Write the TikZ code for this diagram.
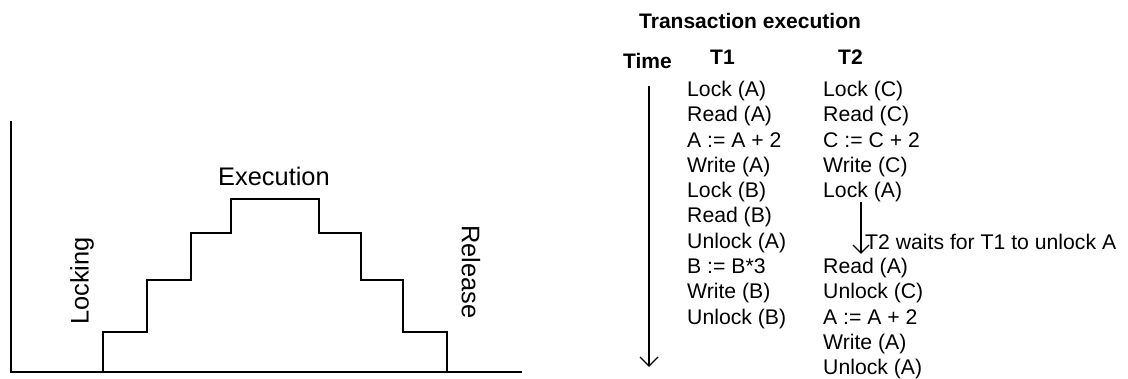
\documentclass[tikz,border=0pt]{standalone}
\usepackage{fontspec}
\setmainfont{Liberation Sans}
\usetikzlibrary{arrows.meta}
\begin{document}
\begin{tikzpicture}[x=1pt,y=-1pt,
  axis/.style={line width=2pt},
  stair/.style={line width=2pt,line join=miter},
  big/.style={font=\fontsize{25.4}{30}\selectfont,inner sep=0pt},
  op/.style={font=\fontsize{21.2}{25}\selectfont,inner sep=0pt,anchor=base west},
  hdr/.style={font=\fontsize{21}{25}\selectfont\bfseries,inner sep=0pt,anchor=base west},
  flow/.style={line width=1.4pt},
  vhead/.style={line width=1.4pt,line join=miter}]
\useasboundingbox (0,0) rectangle (1128,379);
% left diagram
\coordinate (ytop) at (11,121);
\coordinate (orig) at (11,372);
\coordinate (xend) at (522,372);
\draw[axis] (ytop) -- (orig) -- (xend);
\coordinate (s0) at (103,372);
\coordinate (s9) at (447,372);
\draw[stair] (s0) |- (147,332) |- (191,280) |- (231,233) |- (319,199)
  -- (319,233) -| (361,280) -| (403,332) -| (s9);
\node[big,anchor=base west] (exe) at (218,186) {Execution};
\node[big,rotate=90] (lock) at (82,281) {Locking};
\node[big,rotate=-90] (rel) at (471,272) {Release};
% right side
\node[hdr] (title) at (639,28.3) {Transaction execution};
\node[hdr] (time) at (623,68.3) {Time};
\node[hdr] (t1) at (710,65) {T1};
\node[hdr] (t2) at (838,65) {T2};
\foreach \i/\t in {0/Lock (A),1/Read (A),2/{A := A + 2},3/Write (A),4/Lock (B),5/Read (B),6/Unlock (A),7/{B := B*3},8/Write (B),9/Unlock (B)}
  \node[op] (a\i) at (687,96.5+25.3*\i) {\t};
\foreach \i/\t in {0/Lock (C),1/Read (C),2/{C := C + 2},3/Write (C),4/Lock (A),7/Read (A),8/Unlock (C),9/{A := A + 2},10/Write (A),11/Unlock (A)}
  \node[op] (b\i) at (823,96.5+25.3*\i) {\t};
\coordinate (ts) at (649,86);
\coordinate (te) at (649,366);
\draw[flow] (ts) -- (te);
\draw[vhead] ([shift={(-9,-9)}]te) -- (te) -- ([shift={(9,-9)}]te);
\coordinate (ws) at (861,202);
\coordinate (we) at (861,253);
\draw[flow] (ws) -- (we);
\draw[vhead] ([shift={(-8,-8)}]we) -- (we) -- ([shift={(8,-8)}]we);
\node[op] (wait) at (865,250) {T2 waits for T1 to unlock A};
\end{tikzpicture}
\end{document}
